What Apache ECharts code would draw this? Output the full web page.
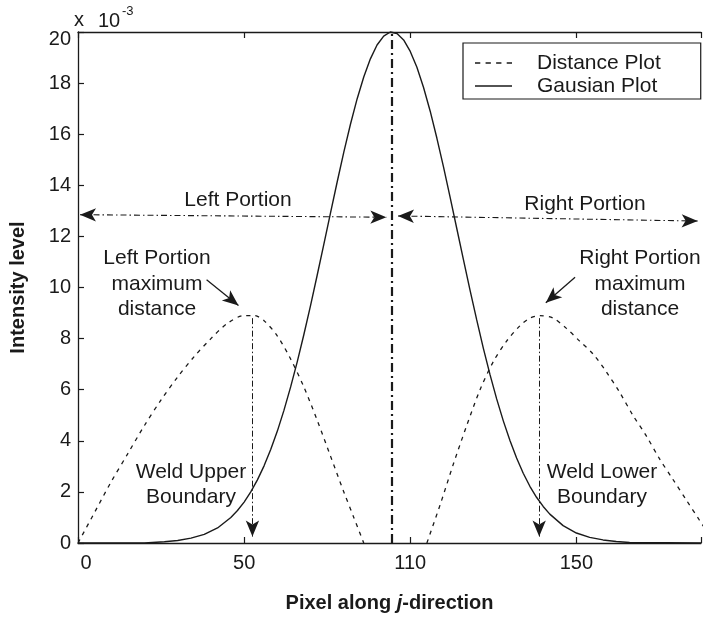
<!DOCTYPE html>
<html><head><meta charset="utf-8">
<script src="https://cdn.jsdelivr.net/npm/echarts@6/dist/echarts.min.js"></script>
<style>html,body{margin:0;padding:0;background:#fff}#c{width:704px;height:619px}</style>
</head><body><div id="c"></div>
<script>
// ---- data ----
const xTickValues = [0, 50, 100, 150];
const xTickLabels = ['0', '50', '110', '150'];
const yTicks = [0, 2, 4, 6, 8, 10, 12, 14, 16, 18, 20];

const gaussX = [0, 20, 26, 30, 34, 38, 42, 46, 48, 50, 52, 54, 56, 58, 60, 62, 64, 66, 68, 70, 72, 74, 76, 78, 80, 82, 84, 86, 88, 90, 92, 94, 96, 98, 100, 102, 104, 106, 108, 110, 112, 114, 116, 118, 120, 122, 124, 126, 128, 130, 132, 134, 136, 138, 140, 142, 146, 150, 154, 158, 162, 166, 187.5];
const gaussY = [0, 0, 0.05, 0.10, 0.19, 0.34, 0.59, 1.00, 1.27, 1.60, 2.00, 2.47, 3.02, 3.66, 4.38, 5.20, 6.11, 7.10, 8.17, 9.30, 10.49, 11.70, 12.92, 14.13, 15.30, 16.39, 17.38, 18.24, 18.95, 19.49, 19.84, 20.0, 19.94, 19.69, 19.24, 18.62, 17.83, 16.90, 15.85, 14.72, 13.53, 12.31, 11.09, 9.89, 8.73, 7.62, 6.59, 5.64, 4.78, 4.01, 3.33, 2.73, 2.22, 1.79, 1.43, 1.13, 0.68, 0.39, 0.22, 0.12, 0.06, 0.02, 0];

const distLeftX = [0, 5, 10, 15, 20, 25, 30, 35, 40, 45, 50, 53, 56, 60, 64, 68, 72, 76, 80, 83, 86];
const distLeftY = [0, 1.2, 2.4, 3.5, 4.6, 5.6, 6.5, 7.3, 8.0, 8.6, 8.9, 8.9, 8.7, 8.1, 7.2, 6.1, 4.8, 3.4, 2.0, 1.0, 0];
const distRightX = [105, 109, 113, 117, 121, 125, 129, 133, 136, 139, 143, 147, 151, 155, 159, 163, 167, 171, 175, 179, 183, 187, 190];
const distRightY = [0, 1.5, 3.1, 4.6, 6.0, 7.1, 7.9, 8.5, 8.8, 8.9, 8.8, 8.4, 7.9, 7.4, 6.7, 5.9, 5.0, 4.2, 3.3, 2.5, 1.7, 0.9, 0.3];

// annotation geometry in data units
const centerLineX = 94.4;
const leftPortion = [[0.6, 12.85], [92.8, 12.75]];
const rightPortion = [[96.3, 12.8], [186.5, 12.6]];
const weldUpper = [[52.5, 8.8], [52.5, 0.25]];
const weldLower = [[138.8, 8.8], [138.8, 0.25]];
const leftMaxArrow = [[38.7, 10.3], [48.3, 9.3]];
const rightMaxArrow = [[149.6, 10.4], [140.8, 9.4]];

// ---- chart ----
const FONT = "'Liberation Sans', Arial, Helvetica, sans-serif";
const INK = '#1a1a1a';
const zip = (xs, ys) => xs.map((x, i) => [x, ys[i]]);

const chart = echarts.init(document.getElementById('c'), null, { renderer: 'canvas' });

function ml(p, dash, w, syms) {
  return [{ coord: p[0], symbol: syms[0], lineStyle: { type: dash, width: w, color: INK } }, { coord: p[1], symbol: syms[1] }];
}

const option = {
  animation: false,
  backgroundColor: '#fff',
  textStyle: { fontFamily: FONT },
  grid: { left: 78, right: 0, top: 32, bottom: 76, containLabel: false },
  xAxis: [{
    type: 'value', min: 0, max: 187.5, interval: 50, position: 'bottom',
    axisLine: { show: true, onZero: false, lineStyle: { color: INK, width: 1.3 } },
    axisTick: { show: true, inside: true, length: 6, lineStyle: { color: INK, width: 1.2 } },
    axisLabel: {
      show: true, margin: 10, fontSize: 20, color: INK, fontFamily: FONT,
      formatter: v => {
        const i = xTickValues.indexOf(v);
        if (i < 0) return '';
        return i === 0 ? '{f|' + xTickLabels[i] + '}' : xTickLabels[i];
      },
      rich: { f: { fontSize: 20, color: INK, fontFamily: FONT, padding: [0, 0, 0, 16] } }
    },
    splitLine: { show: false },
    name: '{b|Pixel along }{i|j}{b|-direction}', nameLocation: 'middle', nameGap: 50,
    nameTextStyle: {
      rich: {
        b: { fontSize: 20, fontWeight: 'bold', color: INK, fontFamily: FONT },
        i: { fontSize: 20, fontWeight: 'bold', fontStyle: 'italic', color: INK, fontFamily: FONT }
      }
    }
  }, {
    type: 'value', min: 0, max: 187.5, interval: 50, position: 'top',
    axisLine: { show: true, onZero: false, lineStyle: { color: INK, width: 1.3 } },
    axisTick: { show: true, inside: true, length: 6, lineStyle: { color: INK, width: 1.2 } },
    axisLabel: { show: false }, splitLine: { show: false }
  }],
  yAxis: [{
    type: 'value', min: 0, max: 20, interval: 2,
    axisLine: { show: true, onZero: false, lineStyle: { color: INK, width: 1.3 } },
    axisTick: { show: true, inside: true, length: 6, lineStyle: { color: INK, width: 1.2 } },
    axisLabel: {
      margin: 7, fontSize: 20, color: INK, fontFamily: FONT,
      formatter: v => {
        if (yTicks.indexOf(v) < 0) return '';
        return v === 20 ? '{t|20}' : String(v);
      },
      rich: { t: { fontSize: 20, color: INK, fontFamily: FONT, padding: [14, 0, 0, 0] } }
    },
    splitLine: { show: false },
    name: 'Intensity level', nameLocation: 'middle', nameGap: 50,
    nameTextStyle: { fontSize: 20, fontWeight: 'bold', color: INK, fontFamily: FONT }
  }],
  legend: {
    show: true, orient: 'vertical', left: 463, top: 43,
    data: [
      { name: 'Distance Plot', icon: 'path://M0,0h5v1.3h-5z M10,0h5v1.3h-5z M20,0h5v1.3h-5z M30,0h5v1.3h-5z' },
      { name: 'Gausian Plot', icon: 'path://M0,0h35v1.3h-35z' }
    ],
    itemWidth: 37, itemHeight: 1.4, itemGap: 1, symbolKeepAspect: false,
    padding: [9, 40, 2, 12],
    borderColor: INK, borderWidth: 1.2, backgroundColor: '#fff',
    itemStyle: { color: INK },
    textStyle: { fontSize: 21, lineHeight: 22, color: INK, fontFamily: FONT, padding: [0, 0, 0, 20] },
    selectedMode: false
  },
  series: [
    {
      name: 'Distance Plot', type: 'line', data: zip(distLeftX, distLeftY),
      symbol: 'none', smooth: 0.3, lineStyle: { type: [4, 5], width: 1.3, color: INK },
      itemStyle: { color: INK }, silent: true, z: 3
    },
    {
      name: 'Distance Plot', type: 'line', data: zip(distRightX, distRightY),
      symbol: 'none', smooth: 0.3, lineStyle: { type: [4, 5], width: 1.3, color: INK },
      itemStyle: { color: INK }, silent: true, z: 3
    },
    {
      name: 'Gausian Plot', type: 'line', data: zip(gaussX, gaussY), clip: false,
      symbol: 'none', smooth: false, lineStyle: { type: 'solid', width: 1.4, color: INK },
      itemStyle: { color: INK }, silent: true, z: 4,
      markLine: {
        silent: true, animation: false, symbolSize: [10, 16],
        label: { show: false }, emphasis: { disabled: true },
        data: [
          [{ coord: [centerLineX, 0], symbol: 'none', lineStyle: { type: [9, 4, 2, 4], width: 2.2, color: INK } }, { coord: [centerLineX, 20], symbol: 'none' }],
          ml(leftPortion, [6, 3, 1.5, 3], 1.1, ['arrow', 'arrow']),
          ml(rightPortion, [6, 3, 1.5, 3], 1.1, ['arrow', 'arrow']),
          ml(weldUpper, [6, 2.5, 1.5, 2.5], 1.0, ['none', 'arrow']),
          ml(weldLower, [6, 2.5, 1.5, 2.5], 1.0, ['none', 'arrow']),
          ml(leftMaxArrow, 'solid', 1.3, ['none', 'arrow']),
          ml(rightMaxArrow, 'solid', 1.3, ['none', 'arrow'])
        ]
      }
    }
  ],
  graphic: [
    { type: 'text', left: 74, top: 10, style: { text: 'x', fontSize: 20, fill: INK, fontFamily: FONT } },
    { type: 'text', left: 98, top: 11, style: { text: '10', fontSize: 20, fill: INK, fontFamily: FONT } },
    { type: 'text', left: 122, top: 5, style: { text: '-3', fontSize: 13, fill: INK, fontFamily: FONT } },
    { type: 'text', x: 238, y: 200, style: { text: 'Left Portion', fontSize: 21, fill: INK, fontFamily: FONT, align: 'center', verticalAlign: 'middle' } },
    { type: 'text', x: 585, y: 204, style: { text: 'Right Portion', fontSize: 21, fill: INK, fontFamily: FONT, align: 'center', verticalAlign: 'middle' } },
    { type: 'text', x: 157, y: 284, style: { text: 'Left Portion\nmaximum\ndistance', fontSize: 21, lineHeight: 25.5, fill: INK, fontFamily: FONT, align: 'center', verticalAlign: 'middle' } },
    { type: 'text', x: 640, y: 284, style: { text: 'Right Portion\nmaximum\ndistance', fontSize: 21, lineHeight: 25.5, fill: INK, fontFamily: FONT, align: 'center', verticalAlign: 'middle' } },
    { type: 'text', x: 191, y: 485, style: { text: 'Weld Upper\nBoundary', fontSize: 21, lineHeight: 25, fill: INK, fontFamily: FONT, align: 'center', verticalAlign: 'middle' } },
    { type: 'text', x: 602, y: 485, style: { text: 'Weld Lower\nBoundary', fontSize: 21, lineHeight: 25, fill: INK, fontFamily: FONT, align: 'center', verticalAlign: 'middle' } }
  ]
};
chart.setOption(option);
</script>
</body></html>
